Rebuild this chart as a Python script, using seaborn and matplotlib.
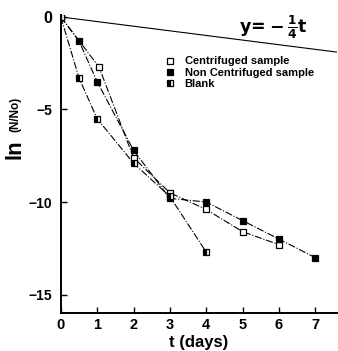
import numpy as np
import pandas as pd
import matplotlib
matplotlib.use('Agg')
import matplotlib.pyplot as plt
import seaborn as sns
from matplotlib.lines import Line2D

# data
cent_t = [0, 1.05, 2, 3, 4, 5, 6]
cent_y = [0, -2.7, -7.6, -9.5, -10.4, -11.6, -12.3]

noncent_t = [0, 0.5, 1, 2, 3, 4, 5, 6, 7]
noncent_y = [0, -1.3, -3.5, -7.2, -9.8, -10.0, -11.0, -12.0, -13.0]

blank_t = [0, 0.5, 1, 2, 3, 4]
blank_y = [0, -3.3, -5.5, -7.9, -9.7, -12.7]

ref_t = [0, 7.6]
ref_y = [0, -1.9]

x_ticks = [0, 1, 2, 3, 4, 5, 6, 7]
y_ticks = [0, -5, -10, -15]
y_tick_labels = ['0', '\u22125', '\u221210', '\u221215']

sns.set_style('ticks')
plt.rcParams['font.family'] = ['Liberation Sans', 'DejaVu Sans']
for key in ['text.color', 'axes.labelcolor', 'xtick.color', 'ytick.color', 'axes.edgecolor']:
    plt.rcParams[key] = 'black'

fig = plt.figure(figsize=(3.38, 3.51), dpi=100)
ax = fig.add_axes([0.180, 0.108, 0.817, 0.849])

# reference line y = -t/4
sns.lineplot(x=ref_t, y=ref_y, ax=ax, color='black', linewidth=0.8)

common = dict(ax=ax, color='black', linewidth=0.8, linestyle='-.', sort=False,
              marker='s', markersize=5, markeredgecolor='black', markeredgewidth=0.9)
sns.lineplot(x=cent_t, y=cent_y, markerfacecolor='white', **common)
sns.lineplot(x=noncent_t, y=noncent_y, markerfacecolor='black', **common)
sns.lineplot(x=blank_t, y=blank_y, markerfacecolor='black', fillstyle='left',
             markerfacecoloralt='white', **common)

ax.set_xlim(0, 7.6)
ax.set_ylim(-16, 0.1)
ax.set_xticks(x_ticks)
ax.set_xticklabels([str(v) for v in x_ticks], fontsize=10.5, fontweight='bold')
ax.set_yticks(y_ticks)
ax.set_yticklabels(y_tick_labels, fontsize=10, fontweight='bold')
ax.get_yticklabels()[0].set_fontsize(11.5)
ax.tick_params(direction='in', length=4, width=1)
ax.tick_params(axis='y', pad=6)
sns.despine(ax=ax)
for s in ['left', 'bottom']:
    ax.spines[s].set_linewidth(1.4)

ax.set_xlabel('t (days)', fontsize=12, fontweight='bold', labelpad=2)
ax.set_ylabel('')
fig.text(0.045, 0.575, 'ln', rotation=90, fontsize=16, fontweight='bold',
         ha='center', va='center')
fig.text(0.045, 0.675, '(N/No)', rotation=90, fontsize=8.5, fontweight='bold',
         ha='center', va='center')

ax.text(4.9, -0.55, r'$\mathbf{y\!=\!-\frac{1}{4}t}$', fontsize=12.5,
        ha='left', va='center')

# legend
handles = [
    Line2D([], [], linestyle='none', marker='s', markersize=5, color='black',
           markerfacecolor='white', markeredgewidth=0.9),
    Line2D([], [], linestyle='none', marker='s', markersize=5, color='black',
           markerfacecolor='black', markeredgewidth=0.9),
    Line2D([], [], linestyle='none', marker='s', markersize=5, color='black',
           markerfacecolor='black', fillstyle='left', markerfacecoloralt='white',
           markeredgewidth=0.9),
]
labels = ['Centrifuged sample', 'Non Centrifuged sample', 'Blank']
ax.legend(handles, labels, loc='upper left', bbox_to_anchor=(0.36, 0.88),
          frameon=False, handlelength=0.8, handletextpad=0.9,
          labelspacing=0.12, borderpad=0,
          prop={'size': 8, 'weight': 'bold'})

fig.savefig('out.png', dpi=100)
